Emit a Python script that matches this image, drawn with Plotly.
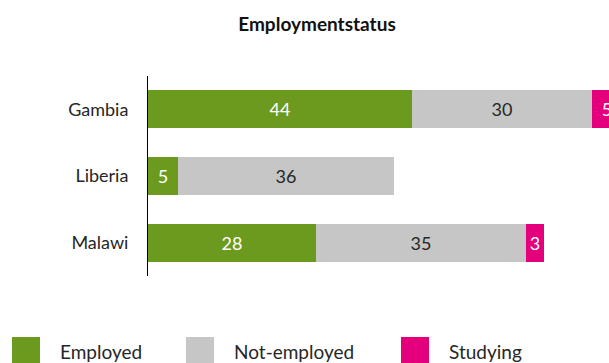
import plotly.graph_objects as go

# Employment status by country (counts)
countries = ["Gambia", "Liberia", "Malawi"]
employed = [44, 5, 28]
not_employed = [30, 36, 35]
studying = [5, None, 3]

series_names = ["Employed", "Not-employed", "Studying"]
series_colors = ["#6b9a1f", "#c5c6c5", "#e4007c"]
text_colors = ["#ffffff", "#262626", "#ffffff"]

W, H = 609, 363
M_L, M_R, M_T, M_B = 148, 0, 76, 87
PX_PER_UNIT = 6.0
FONT = "Lato"

fig = go.Figure()
for name, vals, col, tcol in zip(series_names, [employed, not_employed, studying],
                                 series_colors, text_colors):
    fig.add_trace(go.Bar(
        y=countries, x=vals, name=name, orientation="h",
        marker=dict(color=col, line=dict(width=0)),
        text=[("" if v is None else str(v)) for v in vals],
        textposition="inside", insidetextanchor="middle", textangle=0,
        insidetextfont=dict(family=FONT, size=18, color=tcol),
        constraintext="none", showlegend=False, hoverinfo="x+y+name",
    ))

plot_w = W - M_L - M_R
plot_h = H - M_T - M_B


def px_x(px):
    return (px - M_L) / plot_w


def px_y(py):
    return (H - M_B - py) / plot_h


# Legend drawn below the plot: colour swatches with labels
legend_items = [(12, 58), (186, 232), (401, 447)]
shapes = []
annotations = []
for (sx, tx), name, col in zip(legend_items, series_names, series_colors):
    shapes.append(dict(type="rect", xref="paper", yref="paper",
                       x0=px_x(sx), x1=px_x(sx + 28), y0=px_y(337), y1=px_y(366),
                       fillcolor=col, line=dict(width=0), layer="above"))
    annotations.append(dict(xref="paper", yref="paper", x=px_x(tx), y=px_y(351),
                            xanchor="left", yanchor="middle", showarrow=False,
                            text=name, font=dict(family=FONT, size=19, color="#262626")))

fig.update_layout(
    barmode="stack",
    bargap=0.43,
    width=W, height=H,
    margin=dict(l=M_L, r=M_R, t=M_T, b=M_B, pad=0),
    paper_bgcolor="white", plot_bgcolor="white",
    title=dict(text="<b>Employmentstatus</b>", x=317 / W, xanchor="center",
               y=1 - 24 / H, yanchor="middle",
               font=dict(family=FONT, size=19, color="#111111")),
    xaxis=dict(range=[0, plot_w / PX_PER_UNIT], visible=False, fixedrange=True),
    yaxis=dict(categoryorder="array", categoryarray=countries, autorange="reversed",
               showline=True, linecolor="#000000", linewidth=1,
               showgrid=False, zeroline=False, ticks="",
               ticklabelstandoff=15,
               tickfont=dict(family=FONT, size=18, color="#262626")),
    shapes=shapes,
    annotations=annotations,
    uniformtext=dict(mode=False),
)

fig.write_html("out.html")
